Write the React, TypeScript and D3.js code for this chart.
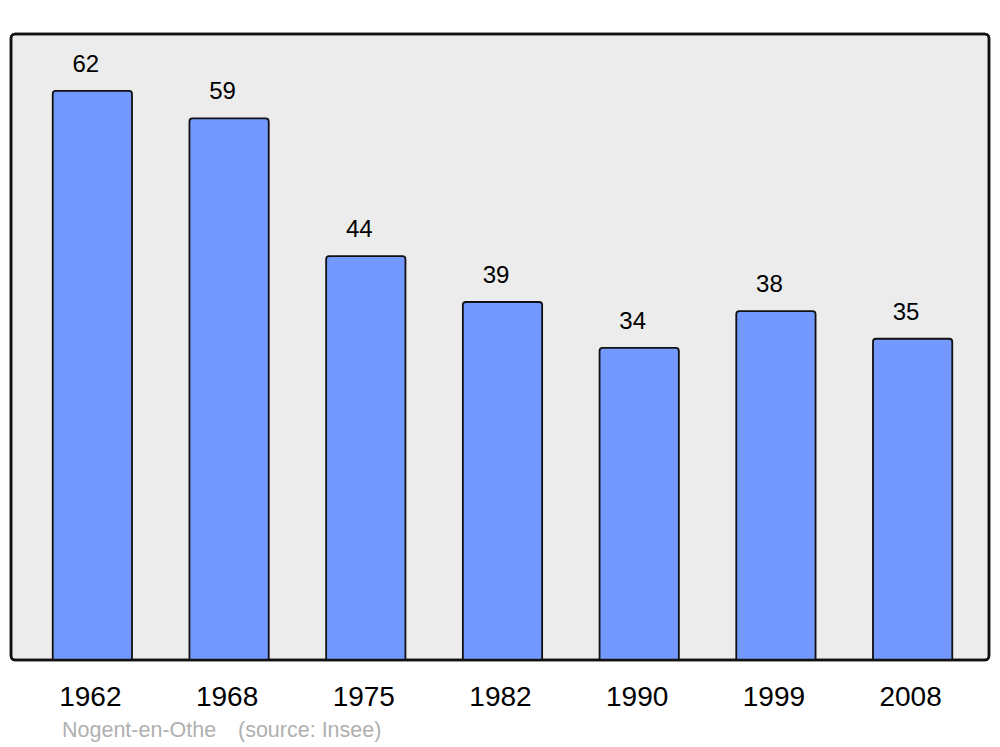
import React from "react";
import * as d3 from "d3";

const years = ["1962", "1968", "1975", "1982", "1990", "1999", "2008"];
const population = [62, 59, 44, 39, 34, 38, 35];
const townName = "Nogent-en-Othe";
const sourceText = "(source: Insee)";

export default function App() {
  const W = 1000, H = 747;
  const left = 11, right = 989, top = 34, bottom = 660;
  const x = d3.scaleBand<string>().domain(years).range([left + 2.5, right + 2.5]).paddingInner(0.42).paddingOuter(0.287);
  const y = d3.scaleLinear().domain([0, 68.2]).range([bottom, top]);
  const font = "'Liberation Sans', Arial, sans-serif";
  return (
    <svg width={W} height={H} style={{ position: "absolute", left: 0, top: 0 }} fontFamily={font}>
      <rect x={left} y={top} width={right - left} height={bottom - top} rx={4} fill="#ececec" stroke="#111" strokeWidth={2.5} />
      {years.map((yr, i) => {
        const bx = x(yr)!;
        const bw = x.bandwidth();
        const by = y(population[i]);
        const cx = bx + bw / 2;
        return (
          <g key={yr}>
            <path
              d={`M${bx},${bottom} V${by + 3} Q${bx},${by} ${bx + 3},${by} H${bx + bw - 3} Q${bx + bw},${by} ${bx + bw},${by + 3} V${bottom}`}
              fill="#7399ff" stroke="#111" strokeWidth={1.8} />
            <text x={cx - 6.5} y={by - 19} textAnchor="middle" fontSize={24} fill="#000">{population[i]}</text>
            <text x={cx - 2} y={706} textAnchor="middle" fontSize={28} fill="#000">{yr}</text>
          </g>
        );
      })}
      <rect x={left} y={top} width={right - left} height={bottom - top} rx={4} fill="none" stroke="#111" strokeWidth={2.5} />
      <text x={62} y={737} fontSize={21.5} fill="#b0b0b0">{townName}</text>
      <text x={238} y={737} fontSize={21.5} fill="#b0b0b0">{sourceText}</text>
    </svg>
  );
}
